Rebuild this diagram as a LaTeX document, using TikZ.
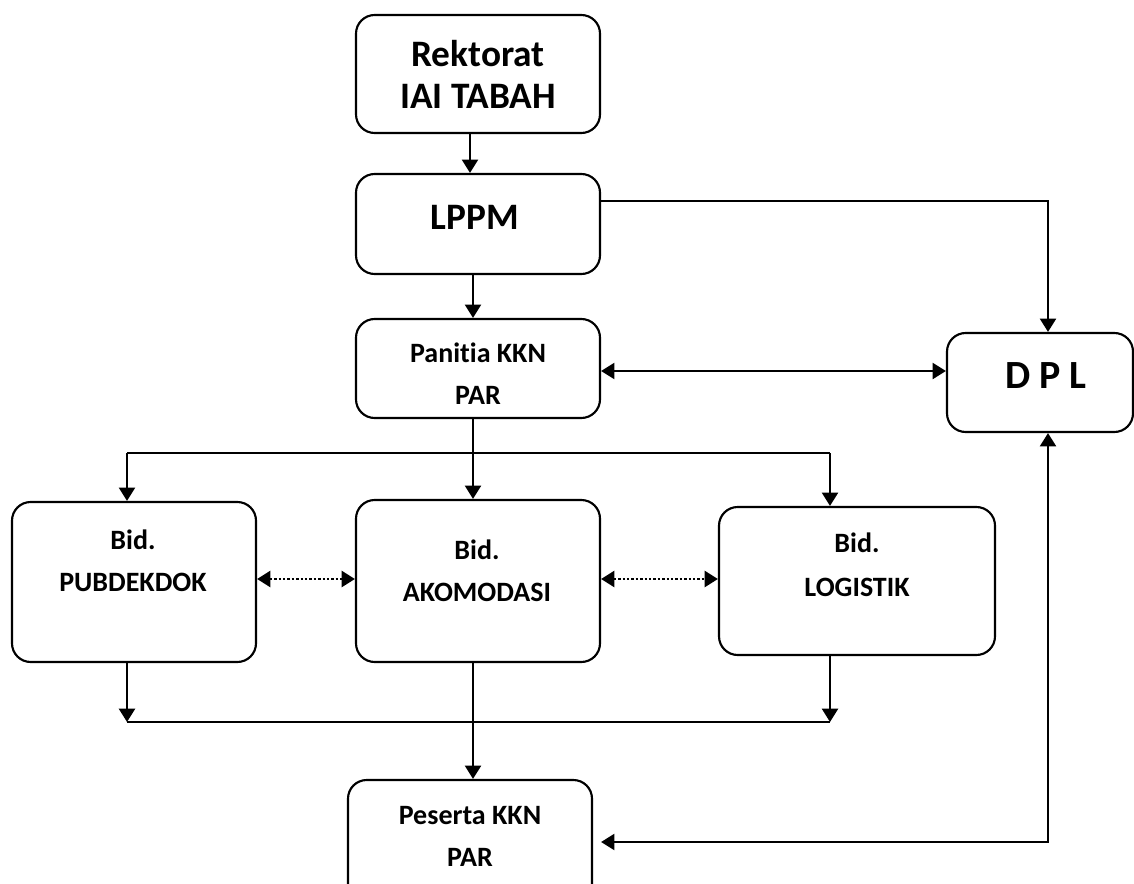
\documentclass[tikz,border=0pt]{standalone}
\usepackage{fontspec}
\setmainfont{Carlito}[Ligatures={NoCommon}]
\usetikzlibrary{arrows.meta,calc}
\tikzset{
  tip/.tip={Triangle[length=10pt,width=12pt]},
  box/.style={draw, line width=1.6pt, rounded corners=14pt, inner sep=0pt},
  big/.style={anchor=base, font=\fontsize{28}{30}\selectfont\bfseries, inner sep=0pt},
  med/.style={anchor=base, font=\fontsize{21}{23}\selectfont\bfseries, inner sep=0pt},
  arr/.style={line width=1.7pt, -tip},
  arrb/.style={line width=1.7pt, tip-tip},
  dotarr/.style={line width=2pt, dash pattern=on 1.8pt off 1.5pt, tip-tip},
  ln/.style={line width=1.7pt}
}
\begin{document}
\begin{tikzpicture}[x=0.75pt,y=-0.75pt]
\useasboundingbox (0,0) rectangle (1134,884);
\clip (0,0) rectangle (1134,884);
% boxes
\node[box, minimum width=183pt, minimum height=88.5pt] (rek) at (478,74) {};
\node[box, minimum width=183pt, minimum height=75pt] (lppm) at (478,224) {};
\node[box, minimum width=183pt, minimum height=74.25pt] (pan) at (478,368.5) {};
\node[box, minimum width=139.5pt, minimum height=74.25pt] (dpl) at (1040,382.5) {};
\node[box, minimum width=183pt, minimum height=120pt] (pub) at (134,582) {};
\node[box, minimum width=183pt, minimum height=121.5pt] (ako) at (478,581) {};
\node[box, minimum width=207pt, minimum height=111pt] (log) at (857,581) {};
\node[box, minimum width=183pt, minimum height=96pt] (pes) at (470,844) {};
% texts
\node[big] (t1) at (478,67) {Rektorat};
\node[big] (t2) at (478,109) {IAI TABAH};
\node[big] (t3) at (475,229) {LPPM};
\node[med] (t4) at (478,362) {Panitia KKN};
\node[med] (t5) at (478,404) {PAR};
\node[anchor=base, font=\fontsize{30}{32}\selectfont\bfseries, inner sep=0pt] (t6) at (1046,388) {D P L};
\node[med] (t7) at (133,549) {Bid.};
\node[med] (t8) at (133,591) {PUBDEKDOK};
\node[med] (t9) at (477,559) {Bid.};
\node[med] (t10) at (477,601) {AKOMODASI};
\node[med] (t11) at (857,552) {Bid.};
\node[med] (t12) at (857,596) {LOGISTIK};
\node[med] (t13) at (470,824) {Peserta KKN};
\node[med] (t14) at (470,866) {PAR};
% helper coordinates
\coordinate (xa) at (470,0);
\coordinate (xb) at (473,0);
\coordinate (xl) at (127,0);
\coordinate (xr) at (830,0);
\coordinate (xd) at (1048,0);
\coordinate (ylp) at (0,201);
\coordinate (ypd) at (0,371);
\coordinate (ybus) at (0,453);
\coordinate (ydot) at (0,579);
\coordinate (ybot) at (0,722);
\coordinate (ypes) at (0,842);
% connectors
\draw[arr] (rek.south -| xa) -- (lppm.north -| xa);
\draw[arr] (lppm.south -| xb) -- (pan.north -| xb);
\draw[arr] (lppm.east |- ylp) -- (xd |- ylp) -- (dpl.north -| xd);
\draw[arrb] (pan.east |- ypd) -- (dpl.west |- ypd);
\draw[arr] (pan.south -| xb) -- (ako.north -| xb);
\draw[ln] (xl |- ybus) -- (xr |- ybus);
\draw[arr] (xl |- ybus) -- (pub.north -| xl);
\draw[arr] (xr |- ybus) -- (log.north -| xr);
\draw[dotarr] (pub.east |- ydot) -- (ako.west |- ydot);
\draw[dotarr] (ako.east |- ydot) -- (log.west |- ydot);
\draw[arr] (pub.south -| xl) -- (xl |- ybot);
\draw[arr] (log.south -| xr) -- (xr |- ybot);
\draw[ln] (xl |- ybot) -- (xr |- ybot);
\draw[arr] (ako.south -| xb) -- (pes.north -| xb);
\draw[arrb, shorten >=6pt] (dpl.south -| xd) -- (xd |- ypes) -- (pes.east |- ypes);
\end{tikzpicture}
\end{document}
